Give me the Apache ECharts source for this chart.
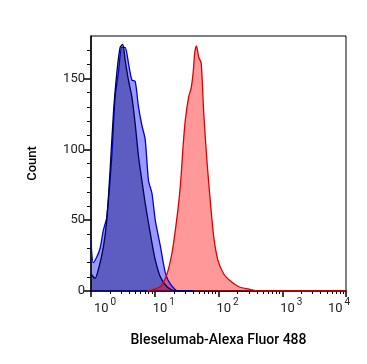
<!DOCTYPE html>
<html>
<head>
<meta charset="utf-8">
<script src="https://cdn.jsdelivr.net/npm/echarts@6/dist/echarts.min.js"></script>
<style>html,body{margin:0;padding:0;background:#fff;}#c{width:367px;height:364px;}</style>
</head>
<body>
<div id="c"></div>
<script>
// x values are log10(fluorescence), y values are counts
const lightX = [0, 0.036, 0.09, 0.142, 0.194, 0.247, 0.326, 0.378, 0.43, 0.483, 0.535, 0.587, 0.641, 0.693, 0.745, 0.798, 0.85, 0.902, 0.956, 1.008, 1.087, 1.165, 1.244, 1.37, 1.6];
const lightY = [36, 20, 24, 30, 43, 52, 95, 137, 154, 172, 172, 161, 149, 148, 130, 117, 107, 78, 69, 50, 32, 13, 5, 0, 0];
const darkX = [0, 0.063, 0.115, 0.194, 0.247, 0.299, 0.351, 0.405, 0.457, 0.499, 0.535, 0.587, 0.641, 0.693, 0.745, 0.798, 0.85, 0.902, 0.956, 1.008, 1.087, 1.192, 1.323, 1.6];
const darkY = [12, 9, 15, 31, 50, 85, 125, 154, 172, 174, 163, 149, 137, 118, 95, 78, 62, 48, 34, 22, 10, 3, 0, 0];
const redX = [0.877, 1.087, 1.192, 1.271, 1.323, 1.375, 1.413, 1.444, 1.48, 1.532, 1.57, 1.602, 1.627, 1.654, 1.69, 1.728, 1.769, 1.822, 1.874, 1.926, 1.989, 2.083, 2.189, 2.32, 2.504, 2.61, 4.0];
const redY = [0, 3, 12, 27, 43, 62, 81, 102, 121, 137, 143, 154, 168, 173, 165, 161, 125, 90, 62, 38, 22, 12, 7, 3, 1, 0, 0];
const xMajor = [0, 1, 2, 3, 4];
const xMinor = [];
xMajor.slice(0, 4).forEach(function (d) { for (let m = 2; m <= 9; m++) xMinor.push(d + Math.log10(m)); });
const yMajor = [0, 50, 100, 150];
const yMinor = [10, 20, 30, 40, 60, 70, 80, 90, 110, 120, 130, 140, 160, 170];

function pairs(xs, ys) { return xs.map(function (x, i) { return [x, ys[i]]; }); }

const chart = echarts.init(document.getElementById('c'));
const font = 'Roboto';
chart.setOption({
  animation: false,
  backgroundColor: '#fff',
  grid: { left: 91, right: 21, top: 36, bottom: 73, show: true, borderColor: '#000', borderWidth: 1 },
  xAxis: [{
    type: 'value', min: 0, max: 4,
    name: 'Bleselumab-Alexa Fluor 488', nameLocation: 'middle', nameGap: 42,
    nameTextStyle: { fontFamily: font, fontSize: 14, fontWeight: 500, color: '#000' },
    axisLine: { show: true, lineStyle: { color: '#000', width: 1.5 } },
    axisTick: { show: true, length: 6, customValues: xMajor, lineStyle: { color: '#000', width: 1.5 } },
    splitLine: { show: false },
    axisLabel: {
      customValues: xMajor, margin: 6, showMinLabel: true, showMaxLabel: true, hideOverlap: false,
      formatter: function (v) {
        const e = Math.round(v);
        if (e === 0) return '{p0| }{b|10}{s|' + e + '}';
        if (e === 4) return '{b|10}{s|' + e + '}{q| }';
        return '{p| }{b|10}{s|' + e + '}';
      },
      rich: {
        b: { fontFamily: font, fontSize: 13, color: '#222', verticalAlign: 'bottom', lineHeight: 18 },
        s: { fontFamily: font, fontSize: 10, color: '#222', verticalAlign: 'top', lineHeight: 18, padding: [0, 0, 0, 2] },
        p: { width: 18, fontSize: 10 },
        p0: { width: 28, fontSize: 10 },
        q: { width: 14, fontSize: 10 }
      }
    }
  }, {
    type: 'value', min: 0, max: 4, position: 'bottom',
    axisLine: { show: false },
    axisTick: { show: true, length: 3, customValues: xMinor, lineStyle: { color: '#000', width: 1 } },
    axisLabel: { show: false }, splitLine: { show: false }
  }],
  yAxis: [{
    type: 'value', min: 0, max: 180,
    name: 'Count', nameLocation: 'middle', nameGap: 52, nameRotate: 90,
    nameTextStyle: { fontFamily: font, fontSize: 13, fontWeight: 500, color: '#000' },
    axisLine: { show: true, lineStyle: { color: '#000', width: 1.5 } },
    axisTick: { show: true, length: 7, customValues: yMajor, lineStyle: { color: '#000', width: 1.5 } },
    axisLabel: { customValues: yMajor, margin: 6, fontFamily: font, fontSize: 13, color: '#222' },
    splitLine: { show: false }
  }, {
    type: 'value', min: 0, max: 180, position: 'left',
    axisLine: { show: false },
    axisTick: { show: true, length: 4, customValues: yMinor, lineStyle: { color: '#000', width: 1 } },
    axisLabel: { show: false }, splitLine: { show: false }
  }],
  series: [{
    type: 'line', data: pairs(lightX, lightY), symbol: 'none', smooth: 0.25,
    lineStyle: { color: '#0000d0', width: 1.3 },
    areaStyle: { color: 'rgba(0,0,255,0.4)', opacity: 1 }
  }, {
    type: 'line', data: pairs(darkX, darkY), symbol: 'none', smooth: 0.25,
    lineStyle: { color: '#000050', width: 1.3 },
    areaStyle: { color: 'rgba(0,0,100,0.4)', opacity: 1 }
  }, {
    type: 'line', data: pairs(redX, redY), symbol: 'none', smooth: 0.25,
    lineStyle: { color: '#dd0000', width: 1.3 },
    areaStyle: { color: 'rgba(255,0,0,0.4)', opacity: 1 }
  }]
});
</script>
</body>
</html>
